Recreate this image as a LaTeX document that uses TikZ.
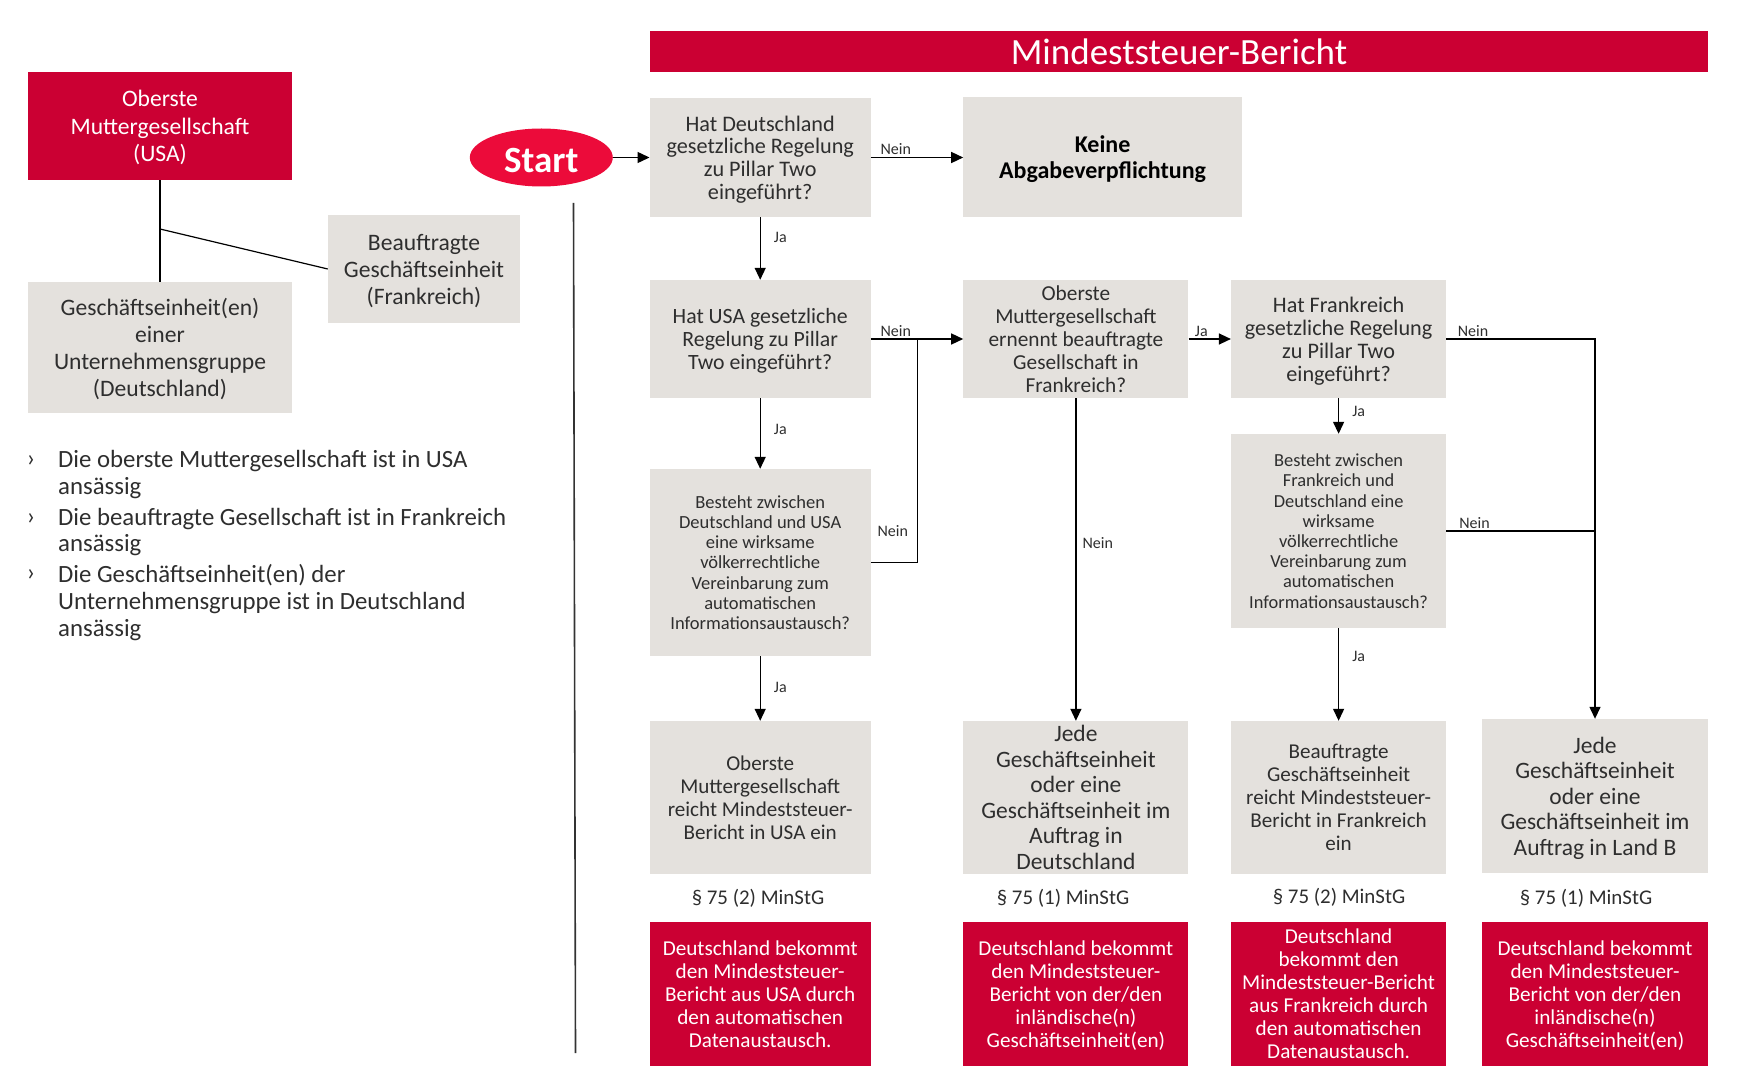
\documentclass[tikz,border=0pt]{standalone}
\usepackage{fontspec}
\setmainfont{Carlito}
\usetikzlibrary{arrows.meta, shapes.geometric}

\definecolor{mstred}{HTML}{CB0033}
\definecolor{startred}{HTML}{EC0B3A}
\definecolor{boxgrey}{HTML}{E4E1DD}
\definecolor{txt}{HTML}{2E2E2E}
\newcommand{\fsz}[2]{\fontsize{#1}{#2}\selectfont}

\begin{document}
\begin{tikzpicture}[x=1pt, y=-1pt,
  >={Triangle[length=12pt, width=11pt]},
  sz/.style 2 args={minimum width=#1, minimum height=#2},
  greybox/.style={fill=boxgrey, text=txt, align=center, inner sep=0pt, text depth=-2pt},
  redbox/.style={fill=mstred, text=white, align=center, inner sep=0pt, text depth=-2pt},
  lbl/.style={font=\fsz{16}{18}, text=txt, inner sep=2pt},
  para/.style={font=\fsz{20.9}{23}, text=txt, inner sep=0pt},
  bul/.style={anchor=base, font=\fsz{24.8}{26.7}, text=txt, inner sep=0pt},
  item/.style={anchor=west, align=left, font=\fsz{24.8}{26.7}, text=txt, inner sep=0pt},
  link/.style={line width=1.4pt},
  tree/.style={line width=1.2pt}]
  \useasboundingbox (0,0) rectangle (1741,1091);

  % group structure
  \node [redbox, sz={264}{108}, font=\fsz{23.6}{27.8}] (top) at (160,126) {Oberste\\Muttergesellschaft\\(USA)};
  \node [greybox, sz={192}{108}, font=\fsz{23.6}{27}] (gfr) at (424,269) {Beauftragte\\Geschäftseinheit\\(Frankreich)};
  \node [greybox, sz={264}{131}, font=\fsz{23.6}{27}] (gde) at (160,347.5) {Geschäftseinheit(en)\\einer\\Unternehmensgruppe\\(Deutschland)};
  \coordinate (t1) at (160,229);
  \draw [tree] (top) -- (gde);
  \draw [tree] (t1) -- (gfr.west);

  \node [bul] (m1) at (31,466.5) {›};
  \node [bul] (m2) at (31,524.5) {›};
  \node [bul] (m3) at (31,580.5) {›};
  \node [item] (b1) at (58,474.5) {Die oberste Muttergesellschaft ist in USA\\ansässig};
  \node [item] (b2) at (58,532) {Die beauftragte Gesellschaft ist in Frankreich\\ansässig};
  \node [item] (b3) at (58,602.5) {Die Geschäftseinheit(en) der\\Unternehmensgruppe ist in Deutschland\\ansässig};

  \coordinate (sepa) at (573.5,203);
  \coordinate (sepb) at (575.5,1053);
  \draw [line width=1.6pt, black!80] (sepa) -- (sepb);

  % flow chart
  \node [ellipse, fill=startred, text=white, sz={143}{58}, inner sep=0pt, font=\bfseries\fsz{37}{40},
    execute at begin node={\rule{0pt}{.83em}}] (start) at (541.3,157.5) {Start};
  \node [redbox, sz={1058.5}{41}, text depth=-4pt, font=\fsz{37}{40}] (title) at (1179,51.5) {Mindeststeuer-Bericht};

  \node [greybox, sz={221}{119}, font=\fsz{22.2}{22.7}] (q1) at (760.2,157.5) {Hat Deutschland\\gesetzliche Regelung\\zu Pillar Two\\eingeführt?};
  \node [greybox, sz={278.4}{120}, font=\bfseries\fsz{24}{26}, text=black] (keine) at (1102.6,157.5) {Keine\\Abgabeverpflichtung};
  \node [greybox, sz={221}{118}, font=\fsz{21.8}{23}] (q2) at (760.2,339) {Hat USA gesetzliche\\Regelung zu Pillar\\Two eingeführt?};
  \node [greybox, sz={225}{118}, font=\fsz{21.3}{23}] (q3) at (1075.9,339) {Oberste\\Muttergesellschaft\\ernennt beauftragte\\Gesellschaft in\\Frankreich?};
  \node [greybox, sz={215}{118}, font=\fsz{22.2}{23}] (q5) at (1338.6,339) {Hat Frankreich\\gesetzliche Regelung\\zu Pillar Two\\eingeführt?};
  \node [greybox, sz={221}{187}, font=\fsz{18.5}{20.3}] (q4) at (760.2,562.5) {Besteht zwischen\\Deutschland und USA\\eine wirksame\\völkerrechtliche\\Vereinbarung zum\\automatischen\\Informationsaustausch?};
  \node [greybox, sz={215}{194}, font=\fsz{18.4}{20.2}] (q6) at (1338.6,531) {Besteht zwischen\\Frankreich und\\Deutschland eine\\wirksame\\völkerrechtliche\\Vereinbarung zum\\automatischen\\Informationsaustausch?};

  \node [greybox, sz={221}{153}, font=\fsz{21.1}{23}] (r1) at (760.2,797.5) {Oberste\\Muttergesellschaft\\reicht Mindeststeuer-\\Bericht in USA ein};
  \node [greybox, sz={225}{153}, font=\fsz{23.5}{25.5}] (r2) at (1075.9,797.5) {Jede\\Geschäftseinheit\\oder eine\\Geschäftseinheit im\\Auftrag in\\Deutschland};
  \node [greybox, sz={215}{153}, font=\fsz{21.1}{23}] (r3) at (1338.6,797.5) {Beauftragte\\Geschäftseinheit\\reicht Mindeststeuer-\\Bericht in Frankreich\\ein};
  \node [greybox, sz={226.4}{154}, font=\fsz{23.5}{25.5}] (r4) at (1595,796) {Jede\\Geschäftseinheit\\oder eine\\Geschäftseinheit im\\Auftrag in Land B};

  \node [para] (p1) at (758,898.5) {§ 75 (2) MinStG};
  \node [para] (p2) at (1063,898.5) {§ 75 (1) MinStG};
  \node [para] (p3) at (1339,897.5) {§ 75 (2) MinStG};
  \node [para] (p4) at (1586,898.5) {§ 75 (1) MinStG};

  \node [redbox, sz={221}{144}, font=\fsz{21.2}{23}] (f1) at (760.2,994) {Deutschland bekommt\\den Mindeststeuer-\\Bericht aus USA durch\\den automatischen\\Datenaustausch.};
  \node [redbox, sz={225}{144}, font=\fsz{21.2}{23}] (f2) at (1075.9,994) {Deutschland bekommt\\den Mindeststeuer-\\Bericht von der/den\\inländische(n)\\Geschäftseinheit(en)};
  \node [redbox, sz={215}{144}, font=\fsz{21.2}{23}] (f3) at (1338.6,994) {Deutschland\\bekommt den\\Mindeststeuer-Bericht\\aus Frankreich durch\\den automatischen\\Datenaustausch.};
  \node [redbox, sz={226.4}{144}, font=\fsz{21.2}{23}] (f4) at (1595,994) {Deutschland bekommt\\den Mindeststeuer-\\Bericht von der/den\\inländische(n)\\Geschäftseinheit(en)};

  % connectors
  \coordinate (j1) at (917.6,339);
  \draw [link, ->] (start) -- (q1);
  \draw [link, ->] (q1) -- node [lbl, above, pos=.27] {Nein} (keine);
  \draw [link, ->] (q1) -- node [lbl, right=11pt, pos=.33] {Ja} (q2);
  \draw [link, ->] (q2) -- node [lbl, above, pos=.27] {Nein} (q3);
  \draw [link, ->] (q2) -- node [lbl, right=11pt, pos=.44] {Ja} (q4);
  \draw [link, ->] (q4) -- node [lbl, right=11pt, pos=.48] {Ja} (r1);
  \draw [link] (q4.east) -| node [lbl, left=7pt, pos=.57] {Nein} (j1);
  \draw [link, ->] (q3) -- node [lbl, right=4pt, pos=.45] {Nein} (r2);
  \draw [link, ->] (q3) -- node [lbl, above, pos=.3] {Ja} (q5);
  \draw [link, ->] (q5.east) -| node [lbl, above, pos=.09] {Nein} (r4.north);
  \draw [link, ->] (q5) -- node [lbl, right=11pt, pos=.36] {Ja} (q6);
  \draw [link] (q6.east) -- node [lbl, above, pos=.19] {Nein} (q6.east -| r4.north);
  \draw [link, ->] (q6) -- node [lbl, right=11pt, pos=.31] {Ja} (r3);
\end{tikzpicture}
\end{document}
